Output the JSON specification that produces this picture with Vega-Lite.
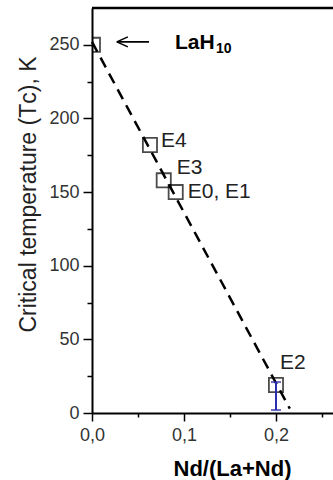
{
  "$schema": "https://vega.github.io/schema/vega-lite/v6.json",
  "width": 241,
  "height": 405,
  "autosize": {"type": "none"},
  "padding": {"left": 92, "top": 8, "right": 0, "bottom": 67},
  "background": "white",
  "config": {"view": {"stroke": null}, "font": "Liberation Sans"},
  "datasets": {
    "points": [
      {"sample": "LaH10", "ratio": 0.001, "tc": 250},
      {"sample": "E4", "ratio": 0.063, "tc": 182},
      {"sample": "E3", "ratio": 0.078, "tc": 158},
      {"sample": "E0, E1", "ratio": 0.091, "tc": 150},
      {"sample": "E2", "ratio": 0.2, "tc": 19}
    ],
    "fit": [{"ratio": 0, "tc": 252}, {"ratio": 0.215, "tc": 3}],
    "err": [{"ratio": 0.2, "tc": 2, "tc2": 21}],
    "caps": [{"ratio": 0.2, "tc": 2}, {"ratio": 0.2, "tc": 21}],
    "arrow": [
      {"ratio": 0.027, "tc": 252, "ratio2": 0.062, "tc2": 252},
      {"ratio": 0.027, "tc": 252, "ratio2": 0.039, "tc2": 255.4},
      {"ratio": 0.027, "tc": 252, "ratio2": 0.039, "tc2": 248.6}
    ],
    "frame": [{"tc": 275}]
  },
  "layer": [
    {
      "data": {"name": "points"},
      "mark": {"type": "point", "shape": "square", "filled": false, "size": 200, "strokeWidth": 1.8, "color": "black", "clip": true},
      "encoding": {
        "x": {
          "field": "ratio", "type": "quantitative",
          "scale": {"domain": [0, 0.262], "nice": false, "zero": false},
          "axis": {
            "title": "Nd/(La+Nd)",
            "values": [0, 0.05, 0.1, 0.15, 0.2, 0.25],
            "labelExpr": "abs(datum.value*10-round(datum.value*10))<0.001 ? replace(format(datum.value,'.1f'),'.',',') : ''",
            "tickSize": {"condition": {"test": "abs(datum.value*10-round(datum.value*10))<0.001", "value": 8}, "value": 4},
            "domainColor": "black", "domainWidth": 2,
            "tickColor": "black", "tickWidth": 1.5,
            "labelFontSize": 18, "labelColor": "#333", "labelPadding": 5,
            "labelFlush": false, "labelOverlap": false,
            "titleFontSize": 22, "titleFontWeight": "bold", "titleColor": "black",
            "titleX": 140, "titleY": 62, "titleBaseline": "alphabetic", "titleAlign": "center",
            "grid": false
          }
        },
        "y": {
          "field": "tc", "type": "quantitative",
          "scale": {"domain": [0, 275], "nice": false},
          "axis": {
            "title": "Critical temperature (Tᴄ), K",
            "values": [0, 25, 50, 75, 100, 125, 150, 175, 200, 225, 250],
            "labelExpr": "datum.value % 50 === 0 ? datum.label : ''",
            "tickSize": {"condition": {"test": "datum.value % 50 === 0", "value": 9}, "value": 5},
            "domainColor": "black", "domainWidth": 2,
            "tickColor": "black", "tickWidth": 1.5,
            "labelFontSize": 18, "labelColor": "#333", "labelPadding": 4,
            "labelFlush": false, "labelOverlap": false,
            "titleFontSize": 23, "titleFontWeight": "normal", "titleColor": "#222",
            "titleX": -64, "titleY": 186, "titleAngle": -90, "titleBaseline": "middle", "titleAlign": "center",
            "grid": false
          }
        }
      }
    },
    {
      "data": {"name": "frame"},
      "mark": {"type": "rule", "color": "black", "strokeWidth": 2.5},
      "encoding": {"y": {"field": "tc", "type": "quantitative"}}
    },
    {
      "data": {"name": "fit"},
      "mark": {"type": "line", "color": "black", "strokeWidth": 2.5, "strokeDash": [11, 7]},
      "encoding": {
        "x": {"field": "ratio", "type": "quantitative"},
        "y": {"field": "tc", "type": "quantitative"}
      }
    },
    {
      "data": {"name": "err"},
      "mark": {"type": "rule", "color": "#2a2ab0", "strokeWidth": 2},
      "encoding": {
        "x": {"field": "ratio", "type": "quantitative"},
        "y": {"field": "tc", "type": "quantitative"},
        "y2": {"field": "tc2"}
      }
    },
    {
      "data": {"name": "caps"},
      "mark": {"type": "tick", "orient": "horizontal", "color": "#2a2ab0", "size": 10, "thickness": 2},
      "encoding": {
        "x": {"field": "ratio", "type": "quantitative"},
        "y": {"field": "tc", "type": "quantitative"}
      }
    },
    {
      "data": {"name": "arrow"},
      "mark": {"type": "rule", "color": "black", "strokeWidth": 1.6},
      "encoding": {
        "x": {"field": "ratio", "type": "quantitative"},
        "y": {"field": "tc", "type": "quantitative"},
        "x2": {"field": "ratio2"},
        "y2": {"field": "tc2"}
      }
    },
    {
      "data": {"name": "points"},
      "transform": [{"filter": "datum.sample === 'E4'"}],
      "mark": {"type": "text", "align": "left", "baseline": "middle", "fontSize": 21, "color": "#222", "dx": 11, "dy": -4},
      "encoding": {
        "x": {"field": "ratio", "type": "quantitative"},
        "y": {"field": "tc", "type": "quantitative"},
        "text": {"field": "sample"}
      }
    },
    {
      "data": {"name": "points"},
      "transform": [{"filter": "datum.sample === 'E3'"}],
      "mark": {"type": "text", "align": "left", "baseline": "middle", "fontSize": 21, "color": "#222", "dx": 13, "dy": -12},
      "encoding": {
        "x": {"field": "ratio", "type": "quantitative"},
        "y": {"field": "tc", "type": "quantitative"},
        "text": {"field": "sample"}
      }
    },
    {
      "data": {"name": "points"},
      "transform": [{"filter": "datum.sample === 'E0, E1'"}],
      "mark": {"type": "text", "align": "left", "baseline": "middle", "fontSize": 21, "color": "#222", "dx": 12, "dy": 0},
      "encoding": {
        "x": {"field": "ratio", "type": "quantitative"},
        "y": {"field": "tc", "type": "quantitative"},
        "text": {"field": "sample"}
      }
    },
    {
      "data": {"name": "points"},
      "transform": [{"filter": "datum.sample === 'E2'"}],
      "mark": {"type": "text", "align": "left", "baseline": "middle", "fontSize": 21, "color": "#222", "dx": 4, "dy": -22},
      "encoding": {
        "x": {"field": "ratio", "type": "quantitative"},
        "y": {"field": "tc", "type": "quantitative"},
        "text": {"field": "sample"}
      }
    },
    {
      "data": {"name": "points"},
      "transform": [{"filter": "datum.sample === 'LaH10'"}],
      "mark": {"type": "text", "align": "left", "baseline": "middle", "fontSize": 21, "fontWeight": "bold", "color": "black", "dx": 82, "dy": -2},
      "encoding": {
        "x": {"field": "ratio", "type": "quantitative"},
        "y": {"field": "tc", "type": "quantitative"},
        "text": {"value": "LaH"}
      }
    },
    {
      "data": {"name": "points"},
      "transform": [{"filter": "datum.sample === 'LaH10'"}],
      "mark": {"type": "text", "align": "left", "baseline": "middle", "fontSize": 14, "fontWeight": "bold", "color": "black", "dx": 123, "dy": 4},
      "encoding": {
        "x": {"field": "ratio", "type": "quantitative"},
        "y": {"field": "tc", "type": "quantitative"},
        "text": {"value": "10"}
      }
    }
  ]
}
